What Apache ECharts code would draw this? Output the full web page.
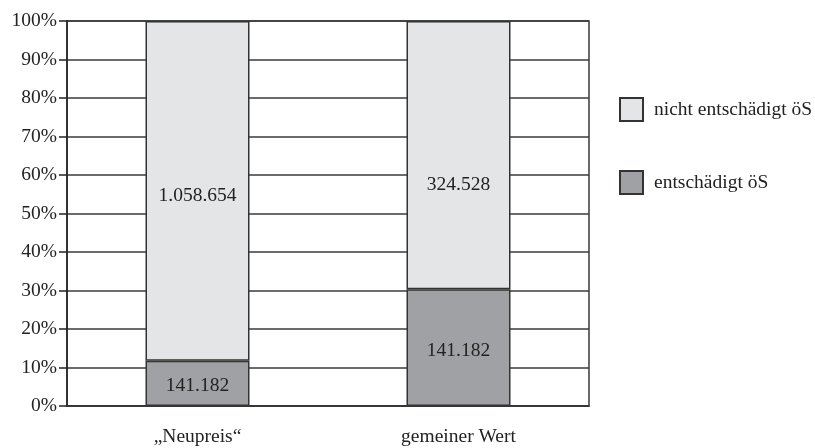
<!DOCTYPE html>
<html>
<head>
<meta charset="utf-8">
<script src="https://cdn.jsdelivr.net/npm/echarts@6/dist/echarts.min.js"></script>
<style>
  html, body { margin: 0; padding: 0; background: #fff; }
  #chart { width: 815px; height: 448px; }
</style>
</head>
<body>
<div id="chart"></div>
<script>
var categories = ["„Neupreis“", "gemeiner Wert"];
var entschaedigt = [141182, 141182];
var nichtEntschaedigt = [1058654, 324528];
var yTicks = ["0%", "10%", "20%", "30%", "40%", "50%", "60%", "70%", "80%", "90%", "100%"];

var FONT = "Liberation Serif";
var FS = 19.5;

function fmt(v) {
  return String(v).replace(/\B(?=(\d{3})+(?!\d))/g, ".");
}

// share of each part in its column, in percent
function share(part, i) {
  return part[i] / (entschaedigt[i] + nichtEntschaedigt[i]) * 100;
}

var chart = echarts.init(document.getElementById("chart"));
chart.setOption({
  animation: false,
  grid: {
    left: 67,
    right: 226,
    top: 21,
    bottom: 42,
    show: true,
    borderColor: "#3a3a3a",
    borderWidth: 1.5
  },
  legend: {
    orient: "vertical",
    left: 614,
    top: 92,
    itemWidth: 23,
    itemHeight: 23,
    itemGap: 48,
    icon: "rect",
    data: ["nicht entschädigt öS", "entschädigt öS"],
    textStyle: {
      fontFamily: FONT,
      fontSize: FS,
      color: "#222",
      padding: [0, 0, 0, 6]
    }
  },
  xAxis: {
    type: "category",
    data: categories,
    axisLine: { lineStyle: { color: "#333", width: 1.5 } },
    axisTick: { show: false },
    axisLabel: {
      fontFamily: FONT,
      fontSize: FS,
      color: "#222",
      margin: 21
    }
  },
  yAxis: {
    type: "value",
    min: 0,
    max: 100,
    interval: 10,
    axisLine: { show: true, lineStyle: { color: "#222", width: 1.5 } },
    axisTick: { show: true, length: 8, lineStyle: { color: "#222", width: 1.5 } },
    axisLabel: {
      fontFamily: FONT,
      fontSize: FS,
      color: "#222",
      margin: 10,
      formatter: function (v) { return yTicks[Math.round(v / 10)]; }
    },
    splitLine: { lineStyle: { color: "#3a3a3a", width: 1.5 } }
  },
  series: [
    {
      name: "entschädigt öS",
      type: "bar",
      stack: "total",
      barWidth: 104,
      itemStyle: { color: "#a0a1a5", borderColor: "#333", borderWidth: 1.5 },
      label: {
        show: true,
        position: "inside",
        offset: [0, 3],
        fontFamily: FONT,
        fontSize: FS,
        color: "#222",
        formatter: function (p) { return fmt(entschaedigt[p.dataIndex]); }
      },
      data: categories.map(function (c, i) { return share(entschaedigt, i); })
    },
    {
      name: "nicht entschädigt öS",
      type: "bar",
      stack: "total",
      barWidth: 104,
      itemStyle: { color: "#e4e5e7", borderColor: "#333", borderWidth: 1.5 },
      label: {
        show: true,
        position: "inside",
        fontFamily: FONT,
        fontSize: FS,
        color: "#222",
        formatter: function (p) { return fmt(nichtEntschaedigt[p.dataIndex]); }
      },
      data: categories.map(function (c, i) {
        return {
          value: share(nichtEntschaedigt, i),
          label: { offset: [0, i === 0 ? 5 : 30] }
        };
      })
    }
  ]
});
</script>
</body>
</html>
